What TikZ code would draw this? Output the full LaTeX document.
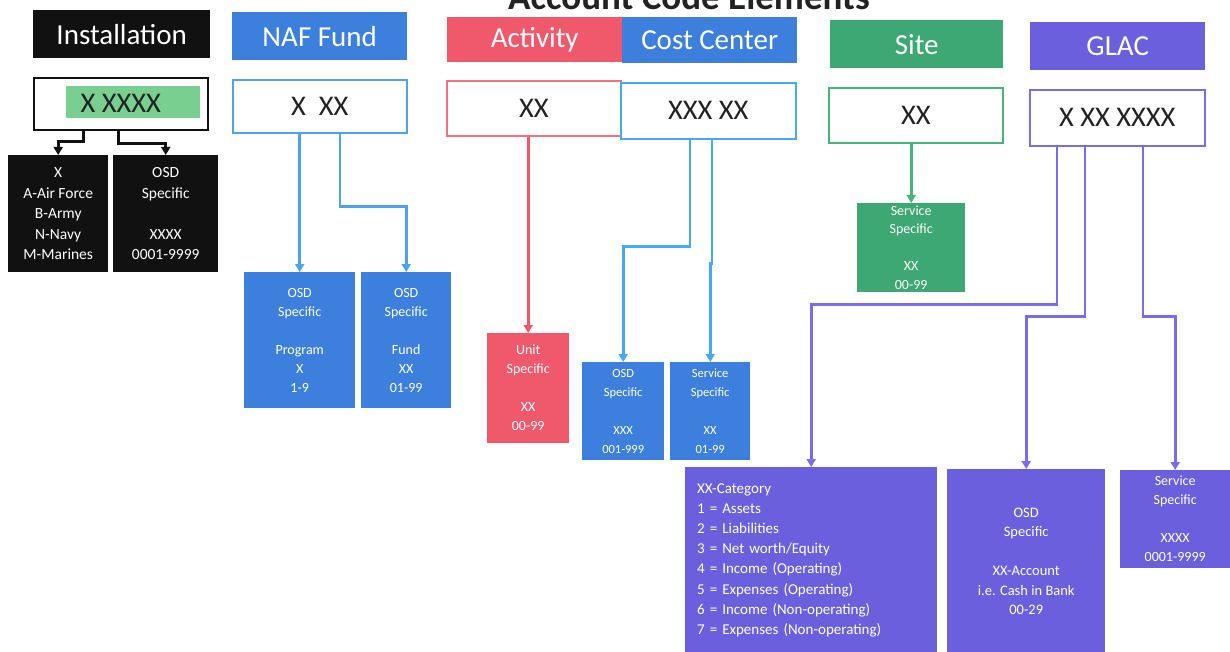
\documentclass[tikz,border=0pt]{standalone}
\usepackage{fontspec}
\setmainfont{Carlito}
\usetikzlibrary{arrows.meta}
\definecolor{color_inst}{HTML}{111111}
\definecolor{color_naf}{HTML}{3D7FDC}
\definecolor{color_naf_line}{HTML}{4FA2EE}
\definecolor{color_act}{HTML}{F0586C}
\definecolor{color_cc_line}{HTML}{48AAEE}
\definecolor{color_site}{HTML}{3DA874}
\definecolor{color_site_line}{HTML}{48B47C}
\definecolor{color_glac}{HTML}{6A60DE}
\definecolor{color_glac_line}{HTML}{7A6CEE}
\definecolor{color_hl}{HTML}{78CF90}
\definecolor{color_code}{HTML}{222222}

\begin{document}
\begin{tikzpicture}[x=1pt,y=-1pt,
    head/.style={anchor=north west, inner sep=0pt, text=white, font=\fontsize{29}{32}\selectfont},
    codebox/.style={draw, line width=1.6pt, fill=white, anchor=north west, inner sep=0pt, text=color_code, font=\fontsize{28.5}{32}\selectfont},
    part/.style={anchor=north west, inner sep=0pt, text=white, align=center, font=\fontsize{14}{19}\selectfont},
    link/.style={line width=2.6pt, -{Triangle[width=9pt,length=8pt]}}]
    \useasboundingbox (0,0) rectangle (1230,652);
    % title, cut at the top
    \node[anchor=base east, inner sep=0pt, text=color_code, font=\bfseries\fontsize{37}{40}\selectfont] (title) at (870,10) {Account Code Elements};
    % headers
    \node[head, fill=color_inst, minimum width=177, minimum height=48] (insthead) at (33,10) {Installation};
    \node[head, fill=color_naf, minimum width=175, minimum height=48] (nafhead) at (232,12) {NAF Fund};
    \node[head, fill=color_act, minimum width=175, minimum height=45] (acthead) at (447,17) {Activity};
    \node[head, fill=color_naf, minimum width=175, minimum height=46] (cchead) at (622,17) {Cost Center};
    \node[head, fill=color_site, minimum width=173, minimum height=48] (sitehead) at (830,20) {Site};
    \node[head, fill=color_glac, minimum width=175, minimum height=48] (glachead) at (1030,22) {GLAC};
    % code boxes
    \fill[color_hl] (66,86) rectangle (200,118);
    \node[codebox, draw=color_inst, fill=none, minimum width=174, minimum height=52] (instcode) at (33,77) {X XXXX};
    \node[codebox, draw=color_naf_line, minimum width=174, minimum height=53] (nafcode) at (232,79) {X~~XX};
    \node[codebox, draw=color_act!85, minimum width=174, minimum height=55] (actcode) at (446,80) {XX};
    \node[codebox, draw=color_cc_line, minimum width=175, minimum height=56] (cccode) at (620,82) {XXX XX};
    \node[codebox, draw=color_site_line, minimum width=174, minimum height=55] (sitecode) at (828,87) {XX};
    \node[codebox, draw=color_glac_line, minimum width=175, minimum height=56] (glaccode) at (1029,89) {X XX XXXX};
    % element boxes
    \node[part, fill=color_inst, minimum width=100, minimum height=117, font=\fontsize{15.5}{20.5}\selectfont] (instA) at (8,155) {X\\A-Air Force\\B-Army\\N-Navy\\M-Marines};
    \node[part, fill=color_inst, minimum width=105, minimum height=117, font=\fontsize{15.5}{20.5}\selectfont] (instB) at (113,155) {OSD\\Specific\\ \\XXXX\\0001-9999};
    \node[part, fill=color_naf, minimum width=111, minimum height=136] (prog) at (244,272) {OSD\\Specific\\ \\Program\\X\\1-9};
    \node[part, fill=color_naf, minimum width=90, minimum height=136] (fund) at (361,272) {OSD\\Specific\\ \\Fund\\XX\\01-99};
    \node[part, fill=color_act, minimum width=82, minimum height=110] (unit) at (487,333) {Unit\\Specific\\ \\XX\\00-99};
    \node[part, fill=color_naf, minimum width=82, minimum height=98, font=\fontsize{12.5}{19}\selectfont] (ccosd) at (582,362) {OSD\\Specific\\ \\XXX\\001-999};
    \node[part, fill=color_naf, minimum width=80, minimum height=98, font=\fontsize{12.5}{19}\selectfont] (ccsvc) at (670,362) {Service\\Specific\\ \\XX\\01-99};
    \node[part, fill=color_site, minimum width=108, minimum height=89, font=\fontsize{14}{18.5}\selectfont] (sitesvc) at (857,203) {Service\\Specific\\ \\XX\\00-99};
    \node[part, fill=color_glac, minimum width=252, minimum height=186, align=left, text width=228, font=\fontsize{15}{20.2}\selectfont] (cat) at (685,467) {XX-Category\\1 = Assets\\2 = Liabilities\\3 = Net worth/Equity\\4 = Income (Operating)\\5 = Expenses (Operating)\\6 = Income (Non-operating)\\7 = Expenses (Non-operating)};
    \node[part, fill=color_glac, minimum width=158, minimum height=184, font=\fontsize{14.5}{19.5}\selectfont] (acct) at (947,469) {OSD\\Specific\\ \\XX-Account\\i.e. Cash in Bank\\00-29};
    \node[part, fill=color_glac, minimum width=110, minimum height=98] (glsvc) at (1120,470) {Service\\Specific\\ \\XXXX\\0001-9999};
    % connectors
    \draw[link, color_inst, line width=3pt] (instcode.south -| 83,0) -- ++(0,11) -| (instA.north);
    \draw[link, color_inst, line width=3pt] (instcode.south -| 118,0) -- ++(0,13) -| (instB.north);
    \draw[link, color_naf_line] (nafcode.south -| prog.north) -- (prog.north);
    \draw[link, color_naf_line] (nafcode.south -| 340,0) -- ++(0,73) -| (fund.north);
    \draw[link, color_act] (actcode.south -| unit.north) -- (unit.north);
    \draw[link, color_cc_line] (cccode.south -| 690,0) -- ++(0,107) -| (ccosd.north);
    \draw[link, color_cc_line] (cccode.south -| 712,0) -- ++(0,124) -| (ccsvc.north);
    \draw[link, color_site_line] (sitecode.south -| sitesvc.north) -- (sitesvc.north);
    \draw[link, color_glac_line] (glaccode.south -| 1057,0) -- ++(0,158) -| (cat.north);
    \draw[link, color_glac_line] (glaccode.south -| 1085,0) -- ++(0,170) -| (acct.north);
    \draw[link, color_glac_line] (glaccode.south -| 1143,0) -- ++(0,170) -| (glsvc.north);
\end{tikzpicture}
\end{document}
